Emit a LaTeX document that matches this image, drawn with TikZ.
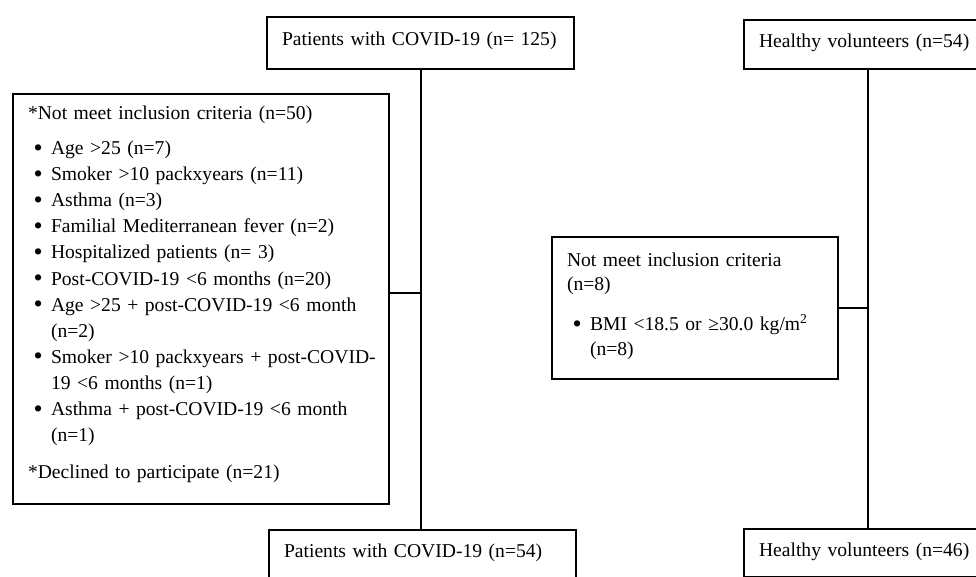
\documentclass[tikz,border=0pt]{standalone}
\usepackage{fontspec}
\setmainfont{Liberation Serif}
\usetikzlibrary{calc}

\newcommand{\bul}[1]{\mbox{\makebox[23pt][l]{\hspace{5.5pt}\raisebox{-1.6pt}{\fontsize{26}{26}\selectfont\textbullet}}#1}}
\newcommand{\cont}{\hspace*{23pt}}
\newcommand{\lowstrut}[1]{\rule[-#1]{0pt}{#1}}

\begin{document}
\begin{tikzpicture}[x=1pt,y=-1pt,
    flowbox/.style={draw=black,line width=2pt,anchor=north west,inner xsep=15pt,
        align=left,font=\fontsize{19.6}{26.1}\selectfont},
    link/.style={line width=2pt}]
        % --- 1. Canvas ---
        \useasboundingbox (0,0) rectangle (976,576);
        \clip (0,0) rectangle (976,576);

        % --- 2. Enrolment Boxes ---
        \node[flowbox,text width=277pt,minimum height=52pt,text depth=8pt] (covid) at (266,16) {\mbox{Patients with COVID-19 (n= 125)}};
        \node[flowbox,text width=218pt,minimum height=49pt,text depth=8pt] (healthy) at (743,19) {Healthy volunteers (n=54)};

        % --- 3. Exclusion Boxes ---
        \node[flowbox,text width=346pt,minimum height=410pt] (excl) at (12,93) {%
            *Not meet inclusion criteria (n=50)\\[9pt]
            \bul{Age >25 (n=7)}\\
            \bul{Smoker >10 packxyears (n=11)}\\
            \bul{Asthma (n=3)}\\
            \bul{Familial Mediterranean fever (n=2)}\\
            \bul{Hospitalized patients (n= 3)}\\
            \bul{Post-COVID-19 <6 months (n=20)}\\
            \bul{Age >25 + post-COVID-19 <6 month}\\
            \cont (n=2)\\
            \bul{Smoker >10 packxyears + post-COVID-}\\
            \cont 19 <6 months (n=1)\\
            \bul{Asthma + post-COVID-19 <6 month}\\
            \cont (n=1)\\[10.5pt]
            *Declined to participate (n=21)\lowstrut{14pt}};
        \node[flowbox,text width=256pt,minimum height=142pt,font=\fontsize{19.6}{24.2}\selectfont] (bmi) at (551,236) {%
            Not meet inclusion criteria\\
            (n=8)\\[16.5pt]
            \bul{BMI <18.5 or ≥30.0 kg/m\textsuperscript{2}}\\
            \cont (n=8)\lowstrut{8.5pt}};

        % --- 4. Final Boxes ---
        \node[flowbox,text width=277pt,minimum height=48pt,text depth=7pt] (covidfin) at (268,529) {Patients with COVID-19 (n=54)};
        \node[flowbox,text width=218pt,minimum height=48pt,text depth=7pt] (healthyfin) at (743,528) {Healthy volunteers (n=46)};

        % --- 5. Connectors ---
        \draw[link] (covid.south) -- (covid.south |- covidfin.north);
        \draw[link] (healthy.south) -- (healthyfin.north);
        \coordinate (jl) at ($(covid.south |- excl.east)+(0,-6)$);
        \draw[link] (excl.east |- jl) -- (jl);
        \draw[link] (bmi.east) -- (bmi.east -| healthy.south);
    \end{tikzpicture}
\end{document}
